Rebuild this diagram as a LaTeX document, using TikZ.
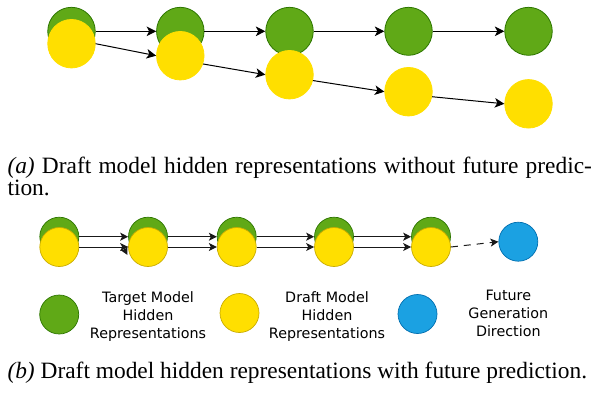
\documentclass[tikz,border=0pt]{standalone}
\usepackage{fontspec}
\setmainfont{Liberation Serif}
\newfontfamily\legendfont{DejaVu Sans}
\usetikzlibrary{shapes.geometric,arrows.meta}
\definecolor{gfill}{HTML}{60A917}
\definecolor{gline}{HTML}{2D7600}
\definecolor{yfill}{HTML}{FFDF00}
\definecolor{yline}{HTML}{C9AC00}
\definecolor{bfill}{HTML}{1BA1E2}
\definecolor{bline}{HTML}{006EAF}
\begin{document}
\begin{tikzpicture}[x=1pt,y=-1pt,
  bigG/.style={ellipse,fill=gfill,draw=gline,line width=0.8pt,minimum width=47.5pt,minimum height=48pt,inner sep=0pt},
  bigY/.style={ellipse,fill=yfill,draw=yfill,line width=0.8pt,minimum width=47.5pt,minimum height=48.5pt,inner sep=0pt},
  smG/.style={ellipse,fill=gfill,draw=gline,line width=0.7pt,minimum width=39pt,minimum height=39pt,inner sep=0pt},
  smY/.style={ellipse,fill=yfill,draw=yline,line width=0.7pt,minimum width=39pt,minimum height=39pt,inner sep=0pt},
  smB/.style={ellipse,fill=bfill,draw=bline,line width=0.7pt,minimum width=39pt,minimum height=39pt,inner sep=0pt},
  arrA/.style={draw=black,line width=1pt,-{Stealth[length=9.5pt,width=9.5pt,inset=2.5pt]}},
  arrB/.style={draw=black!90,line width=1pt,-{Stealth[length=8pt,width=8pt,inset=2pt]}},
  dashB/.style={arrB,dash pattern=on 7pt off 6pt},
  captext/.style={font=\fontsize{23.4pt}{24pt}\selectfont,inner sep=0pt,anchor=base west},
  legtext/.style={font=\legendfont\fontsize{14.3pt}{17.7pt}\selectfont,align=center,inner sep=0pt}
]
\useasboundingbox (0,0) rectangle (596,392);
% ---------- (a) ----------
\node[bigG] (g1) at (71.5,31.3) {};
\node[bigG] (g2) at (180.3,31.3) {};
\node[bigG] (g3) at (289.5,31.3) {};
\node[bigG] (g4) at (408.5,31.3) {};
\node[bigG] (g5) at (528.5,31.3) {};
\node[bigY] (y1) at (71.5,43.7) {};
\node[bigY] (y2) at (180.3,55.7) {};
\node[bigY] (y3) at (289.5,74.7) {};
\node[bigY] (y4) at (408.5,91.7) {};
\node[bigY] (y5) at (528.5,103.8) {};
\draw[arrA] (g1.east) -- (g2.west);
\draw[arrA] (g2.east) -- (g3.west);
\draw[arrA] (g3.east) -- (g4.west);
\draw[arrA] (g4.east) -- (g5.west);
\draw[arrA] (y1.east) -- (y2.west);
\draw[arrA] (y2.-20) -- (y3.west);
\draw[arrA] (y3.-14) -- (y4.west);
\draw[arrA] (y4.-12) -- (y5.west);
\node[captext] (ca1) at (7.3,173.3) {\makebox[584.4pt][s]{\textit{(a)} Draft model hidden representations without future predic-}};
\node[captext] (ca2) at (7.3,195) {tion.};
% ---------- (b) ----------
\node[smG] (gb1) at (59.3,236.7) {};
\node[smG] (gb2) at (148,236.7) {};
\node[smG] (gb3) at (236.7,236.7) {};
\node[smG] (gb4) at (334,236.7) {};
\node[smG] (gb5) at (431,236.7) {};
\node[smY] (yb1) at (59.3,247) {};
\node[smY] (yb2) at (148,247) {};
\node[smY] (yb3) at (236.7,247) {};
\node[smY] (yb4) at (334,247) {};
\node[smY] (yb5) at (431,247) {};
\node[smB] (bl) at (518.3,241.7) {};
\draw[arrB] (gb1.east) -- (gb2.west);
\draw[arrB] (gb2.east) -- (gb3.west);
\draw[arrB] (gb3.east) -- (gb4.west);
\draw[arrB] (gb4.east) -- (gb5.west);
\draw[arrB] (yb1.east) -- (yb2.west);
\draw[arrB] (yb2.east) -- (yb3.west);
\draw[arrB] (yb3.east) -- (yb4.west);
\draw[arrB] (yb4.east) -- (yb5.west);
\coordinate (kA) at (123.5,247.5);
\coordinate (kB) at (127.5,255);
\draw[arrB] (kA) -- (kB);
\draw[dashB] (yb5.east) -- (bl.west);
% legend
\node[smG] (lg) at (59.2,314.5) {};
\node[smY] (ly) at (239.5,313) {};
\node[smB] (lb) at (417.5,314) {};
\node[legtext] (tg) at (148,316.6) {Target Model\\Hidden\\Representations};
\node[legtext] (ty) at (327,316.6) {Draft Model\\Hidden\\Representations};
\node[legtext] (tb) at (508.3,313.5) {Future\\Generation\\Direction};
\node[captext] (cb) at (7.3,378) {\textit{(b)} Draft model hidden representations with future prediction.};
\end{tikzpicture}
\end{document}
